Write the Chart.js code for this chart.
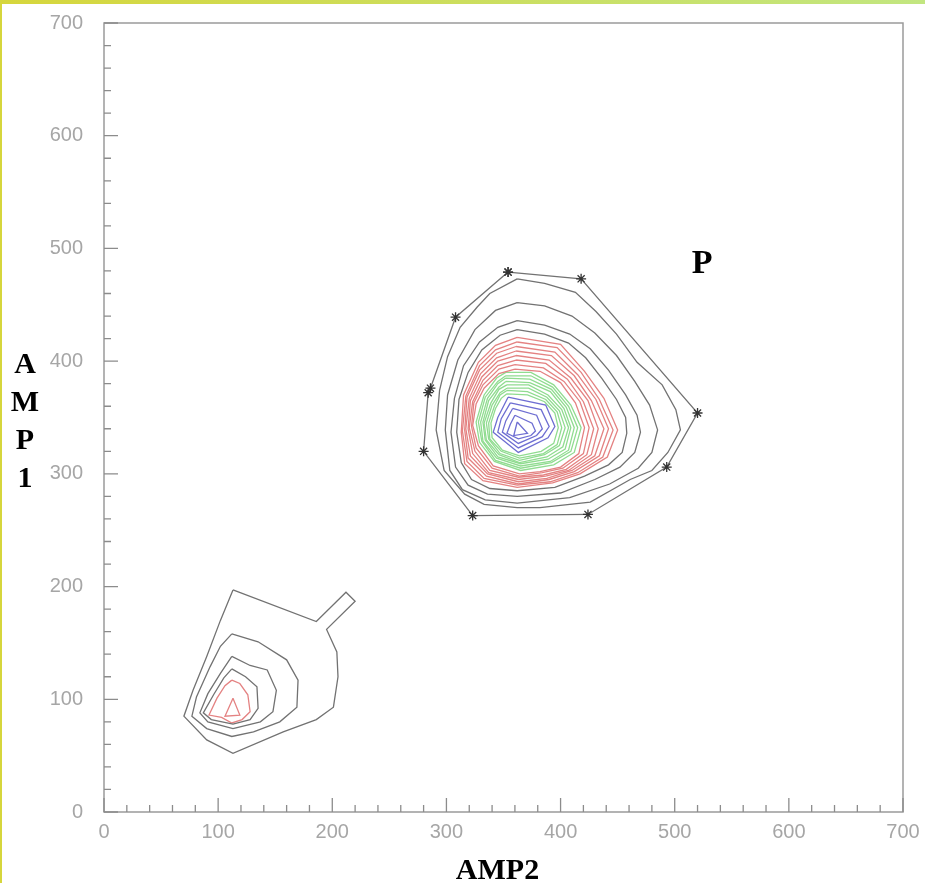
<!DOCTYPE html>
<html>
<head>
<meta charset="utf-8">
<title>AMP1 vs AMP2</title>
<script src="https://cdn.jsdelivr.net/npm/chart.js@4/dist/chart.umd.min.js"></script>
<style>
  html, body { margin: 0; padding: 0; background: #fff; }
  #wrap { position: relative; width: 925px; height: 883px; overflow: hidden; }
  #wrap canvas { display: block; }
  .edge-top { position: absolute; left: 0; top: 0; width: 925px; height: 4px;
              background: linear-gradient(to right, #d6d63c, #c2e680); }
  .edge-left { position: absolute; left: 0; top: 0; width: 2px; height: 883px; background: #d6d63c; }
</style>
</head>
<body>
<div id="wrap">
  <canvas id="myChart" width="925" height="883"></canvas>
  <div class="edge-top"></div>
  <div class="edge-left"></div>
</div>
<script>
// axis ticks: labelled every 100, small marks every 20
var majorTicks = [0, 100, 200, 300, 400, 500, 600, 700];
var minorStep = 20;

// P cluster: cut boundary (star points) then contour levels, outside in
var hullP = [[354,479],[418,473],[520,354],[493,306],[424,264],[323,263],[280,320],[284,372],[286,376],[308,439],[354,479]];

var blackP = [
    [[362,473],[386,469],[413,461],[431,444],[449,424],[467,399],[489,379],[501,357],[505,339],[494,319],[480,303],[461,295],[426,275],[382,270],[362,270],[333,273],[316,282],[298,303],[291,339],[294,374],[301,404],[312,430],[327,448],[338,460],[362,473]],
    [[362,452],[386,449],[410,440],[430,425],[449,405],[465,382],[478,361],[485,339],[480,319],[468,305],[443,291],[408,279],[362,274],[334,277],[314,286],[303,303],[299,339],[301,370],[310,401],[325,428],[343,445],[362,452]],
    [[362,436],[386,432],[408,424],[426,411],[442,392],[457,370],[467,352],[470,337],[465,319],[452,306],[430,295],[400,283],[362,280],[336,282],[319,290],[308,306],[304,337],[307,367],[315,396],[329,417],[345,430],[362,436]],
    [[362,428],[386,424],[407,416],[422,403],[436,385],[449,366],[457,350],[458,336],[454,319],[442,308],[421,298],[395,288],[362,285],[338,287],[322,295],[313,310],[309,337],[311,366],[319,390],[331,410],[347,423],[362,428]]
];

var redP = [
    [[362,421],[400,415],[421,391],[438,367],[450,339],[441,315],[417,300],[393,292],[362,288],[332,294],[316,309],[313,337],[315,370],[328,399],[343,414],[362,421]],
    [[362,417],[397,412],[418,390],[434,366],[446,339],[437,315],[415,301],[391,293],[362,290],[333,296],[318,311],[314,338],[317,369],[329,396],[343,410],[362,417]],
    [[361,413],[395,408],[415,388],[431,366],[442,340],[434,316],[412,302],[390,295],[363,291],[335,298],[319,314],[316,339],[318,368],[329,392],[344,407],[361,413]],
    [[361,409],[392,405],[412,387],[427,365],[438,340],[430,316],[410,303],[388,296],[363,293],[336,300],[321,316],[317,340],[320,367],[330,389],[344,403],[361,409]],
    [[361,405],[390,401],[409,385],[424,365],[433,340],[427,317],[407,303],[387,298],[363,295],[337,301],[323,318],[319,340],[321,365],[331,386],[345,400],[361,405]],
    [[361,401],[387,398],[406,384],[420,364],[429,340],[423,317],[405,304],[385,299],[363,297],[338,303],[325,320],[320,341],[323,364],[332,383],[345,396],[361,401]],
    [[360,397],[385,394],[403,382],[417,364],[425,341],[420,318],[402,305],[384,301],[364,298],[340,305],[326,323],[322,342],[324,363],[332,379],[346,393],[360,397]],
    [[360,393],[382,391],[400,381],[413,363],[421,341],[416,318],[400,306],[382,302],[364,300],[341,307],[328,325],[323,343],[326,362],[333,376],[346,389],[360,393]]
];

var greenP = [
    [[352,390],[374,390],[394,379],[409,361],[418,341],[412,319],[394,308],[365,303],[342,311],[329,328],[326,346],[333,370],[344,385],[352,390]],
    [[352,387],[374,387],[393,377],[407,360],[415,341],[409,320],[392,310],[365,305],[343,312],[331,329],[328,346],[334,368],[345,382],[352,387]],
    [[352,385],[373,384],[392,375],[405,359],[412,341],[407,321],[391,311],[365,307],[344,314],[332,329],[330,346],[336,367],[345,380],[352,385]],
    [[352,382],[373,381],[391,373],[403,358],[409,341],[404,322],[389,313],[365,309],[345,315],[334,330],[332,346],[337,365],[346,377],[352,382]],
    [[353,379],[372,379],[389,370],[401,357],[407,341],[402,324],[388,315],[364,310],[346,317],[335,330],[333,345],[339,363],[346,375],[353,379]],
    [[353,376],[372,376],[388,368],[399,356],[404,341],[399,325],[386,317],[364,312],[347,318],[337,331],[335,345],[340,361],[347,372],[353,376]],
    [[353,374],[371,373],[387,366],[397,355],[401,341],[397,326],[385,318],[364,314],[348,320],[338,331],[337,345],[342,360],[347,370],[353,374]],
    [[353,371],[371,370],[386,364],[395,354],[398,341],[394,327],[383,320],[364,316],[349,321],[340,332],[339,345],[343,358],[348,367],[353,371]]
];

var blueP = [
    [[354,368],[387,361],[395,342],[389,332],[363,319],[341,337],[345,350],[354,368]],
    [[356,363],[383,357],[390,342],[384,333],[363,323],[345,337],[348,349],[356,363]],
    [[358,358],[379,352],[384,340],[379,334],[363,327],[349,337],[352,347],[358,358]],
    [[360,352],[375,345],[378,338],[374,334],[363,331],[353,336],[356,344],[360,352]],
    [[362,346],[371,336],[359,334],[362,346]]
];

// low-amplitude cluster near (110, 95)
var blackLow = [
    [[113,197],[186,169],[212,195],[220,187],[195,162],[204,142],[205,120],[201,93],[186,82],[157,71],[113,52],[90,64],[70,85],[78,108],[90,138],[102,170],[113,197]],
    [[112,158],[135,151],[160,135],[170,117],[169,93],[154,80],[131,71],[112,67],[90,74],[77,85],[81,102],[93,129],[102,147],[112,158]],
    [[112,138],[128,130],[143,126],[151,108],[148,89],[137,80],[113,74],[91,80],[84,88],[91,105],[102,123],[112,138]],
    [[112,127],[124,120],[134,111],[135,92],[128,82],[113,78],[94,82],[87,88],[96,104],[105,119],[112,127]]
];
var redLow = [
    [[112,117],[119,114],[126,104],[128,89],[121,82],[112,79],[103,84],[92,86],[99,101],[106,112],[112,117]],
    [[113,101],[119,86],[106,85],[113,101]]
];

var regionLabel = { text: 'P', x: 524, y: 478 };
var xTitle = 'AMP2';
var yTitle = ['A', 'M', 'P', '1'];

var lineColors = { black: '#727272', red: '#e48282', green: '#90dc90', blue: '#6e6ed2' };

function contour(points, color) {
    return {
        data: points.map(p => ({ x: p[0], y: p[1] })),
        borderColor: color,
        borderWidth: 1.3,
        showLine: true,
        pointRadius: 0,
        fill: false,
        tension: 0
    };
}

var datasets = [];
blackP.forEach(c => datasets.push(contour(c, lineColors.black)));
redP.forEach(c => datasets.push(contour(c, lineColors.red)));
greenP.forEach(c => datasets.push(contour(c, lineColors.green)));
blueP.forEach(c => datasets.push(contour(c, lineColors.blue)));
blackLow.forEach(c => datasets.push(contour(c, lineColors.black)));
redLow.forEach(c => datasets.push(contour(c, lineColors.red)));

var hull = contour(hullP, lineColors.black);
hull.pointRadius = 5;
hull.pointStyle = 'star';
hull.pointBorderColor = '#333';
hull.pointBackgroundColor = '#333';
hull.pointBorderWidth = 1.3;
datasets.push(hull);

// frame round the plot plus inward tick marks
const frameTicks = {
    id: 'frameTicks',
    beforeDatasetsDraw(chart) {
        const { ctx, chartArea: a, scales: { x, y } } = chart;
        ctx.save();
        ctx.strokeStyle = '#9a9a9a';
        ctx.lineWidth = 1.5;
        ctx.strokeRect(a.left, a.top, a.right - a.left, a.bottom - a.top);
        ctx.strokeStyle = '#8c8c8c';
        ctx.lineWidth = 1.3;
        ctx.beginPath();
        x.ticks.forEach(t => {
            const px = x.getPixelForValue(t.value);
            const len = majorTicks.includes(t.value) ? 14 : 7;
            ctx.moveTo(px, a.bottom);
            ctx.lineTo(px, a.bottom - len);
        });
        y.ticks.forEach(t => {
            const py = y.getPixelForValue(t.value);
            const len = majorTicks.includes(t.value) ? 14 : 7;
            ctx.moveTo(a.left, py);
            ctx.lineTo(a.left + len, py);
        });
        ctx.stroke();
        ctx.restore();
    }
};

// axis titles and region name in bold serif
const titles = {
    id: 'titles',
    afterDraw(chart) {
        const { ctx, chartArea: a, scales: { x, y } } = chart;
        ctx.save();
        ctx.fillStyle = '#000';
        ctx.textAlign = 'center';
        ctx.textBaseline = 'alphabetic';
        ctx.font = 'bold 34px "Liberation Serif", "Times New Roman", serif';
        ctx.fillText(regionLabel.text, x.getPixelForValue(regionLabel.x), y.getPixelForValue(regionLabel.y));
        ctx.font = 'bold 30px "Liberation Serif", "Times New Roman", serif';
        ctx.fillText(xTitle, (a.left + a.right) / 2 - 6, 879);
        yTitle.forEach((ch, i) => ctx.fillText(ch, 25, 373 + i * 38));
        ctx.restore();
    }
};

const config = {
    type: 'scatter',
    data: { datasets: datasets },
    options: {
        responsive: false,
        animation: false,
        events: [],
        layout: { padding: { top: 0, right: 22, left: 0, bottom: 0 } },
        plugins: { legend: { display: false }, tooltip: { enabled: false } },
        scales: {
            x: {
                type: 'linear',
                min: 0,
                max: 700,
                grid: { display: false, drawTicks: false },
                border: { display: false },
                ticks: {
                    stepSize: minorStep,
                    autoSkip: false,
                    maxRotation: 0,
                    padding: 0,
                    color: '#a6a6a6',
                    font: { family: '"Liberation Sans", Arial, sans-serif', size: 20, lineHeight: 2 },
                    callback: v => majorTicks.includes(v) ? String(v) : ''
                },
                afterFit: s => { s.height = 71; }
            },
            y: {
                type: 'linear',
                min: 0,
                max: 700,
                grid: { display: false, drawTicks: false },
                border: { display: false },
                ticks: {
                    stepSize: minorStep,
                    autoSkip: false,
                    padding: 21,
                    color: '#a6a6a6',
                    font: { family: '"Liberation Sans", Arial, sans-serif', size: 20, lineHeight: 0.2 },
                    callback: v => majorTicks.includes(v) ? String(v) : ''
                },
                afterFit: s => { s.width = 104; }
            }
        }
    },
    plugins: [frameTicks, titles]
};

var myChart = new Chart(document.getElementById('myChart'), config);
</script>
</body>
</html>
